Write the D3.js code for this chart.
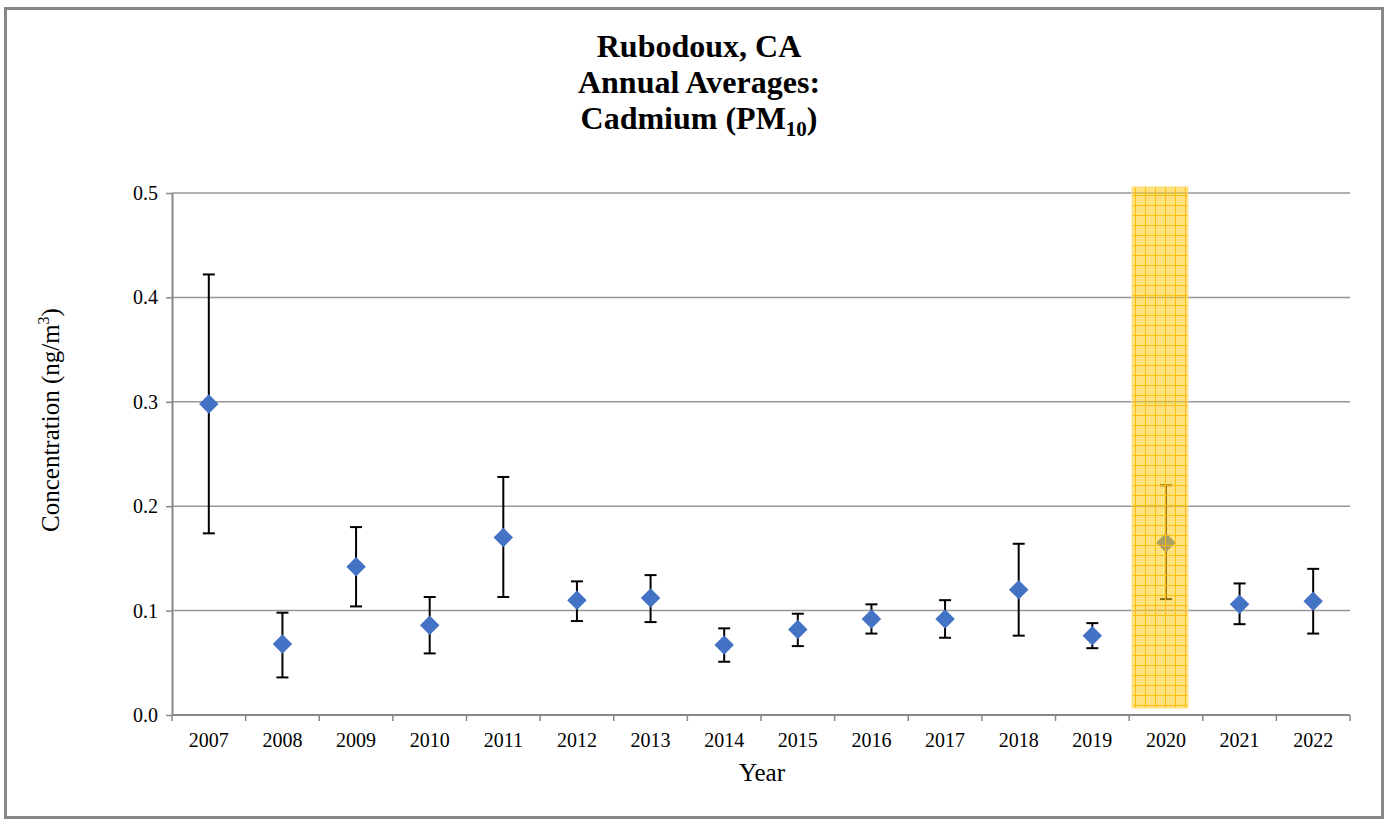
<!DOCTYPE html>
<html lang="en">
<head>
<meta charset="UTF-8">
<title>Rubodoux, CA Cadmium</title>
<script src="https://d3js.org/d3.v7.min.js"></script>
<style>
	body{margin:0;background:#fff}
	text{font-family:"Liberation Serif","Times New Roman",serif;fill:#000}
</style>
</head>
<body>
<svg id="chart" width="1386" height="821"></svg>
<script>
// data
var years = ["2007","2008","2009","2010","2011","2012","2013","2014","2015","2016","2017","2018","2019","2020","2021","2022"]
var means = [0.298,0.068,0.142,0.086,0.170,0.110,0.112,0.067,0.082,0.092,0.092,0.120,0.076,0.165,0.106,0.109]
var upper = [0.422,0.098,0.180,0.113,0.228,0.128,0.134,0.083,0.097,0.106,0.110,0.164,0.088,0.220,0.126,0.140]
var lower = [0.174,0.036,0.104,0.059,0.113,0.090,0.089,0.051,0.066,0.078,0.074,0.076,0.064,0.111,0.087,0.078]
var yTicks = [0,0.1,0.2,0.3,0.4,0.5]
var highlightYear = "2020"

var svg = d3.select("#chart")
var margin = {top:193,left:172,right:36,bottom:106}
var W = 1386, H = 821
var w = W - margin.left - margin.right
var h = H - margin.top - margin.bottom

// outer frame
svg.append("rect").attr("x",5.5).attr("y",8.5).attr("width",1377).attr("height",809)
	.attr("fill","#fff").attr("stroke","#878787").attr("stroke-width",3)

// grid pattern for the highlight
var defs = svg.append("defs")
var pat = defs.append("pattern").attr("id","grid").attr("patternUnits","userSpaceOnUse")
	.attr("width",10).attr("height",10).attr("x",3).attr("y",2)
pat.append("rect").attr("width",10).attr("height",10).attr("fill","rgba(255,200,20,0.55)")
pat.append("path").attr("d","M0,0.5H10M0.5,0V10").attr("stroke","rgba(255,185,0,0.9)").attr("stroke-width",1)

var x = d3.scaleBand().domain(years).range([0,w])
var y = d3.scaleLinear().domain([0,0.5]).range([h,0])

var g = svg.append("g").attr("transform","translate("+margin.left+","+margin.top+")")

// gridlines
g.selectAll(".grid").data(yTicks.slice(1)).enter().append("line")
	.attr("x1",0).attr("x2",w).attr("y1",d=>y(d)).attr("y2",d=>y(d))
	.attr("stroke","#989898").attr("stroke-width",1.5)

// y axis
var yAxis = g.append("g").call(d3.axisLeft(y).tickValues(yTicks).tickFormat(d3.format(".1f")).tickSize(6).tickSizeOuter(0))
yAxis.select(".domain").attr("stroke","#888").attr("stroke-width",2)
yAxis.selectAll(".tick line").attr("stroke","#888").attr("stroke-width",1.5)
yAxis.selectAll(".tick text").attr("font-size",20).attr("x",-14)

// x axis with ticks at category boundaries
var xg = g.append("g").attr("transform","translate(0,"+h+")")
xg.append("line").attr("x1",0).attr("x2",w).attr("stroke","#888").attr("stroke-width",2)
var bounds = years.map(d=>x(d)).concat([w])
xg.selectAll(".xt").data(bounds).enter().append("line")
	.attr("x1",d=>d).attr("x2",d=>d).attr("y1",0).attr("y2",6)
	.attr("stroke","#888").attr("stroke-width",1.5)
xg.selectAll(".xl").data(years).enter().append("text")
	.attr("x",d=>x(d)+x.bandwidth()/2).attr("y",32)
	.attr("text-anchor","middle").attr("font-size",20).text(d=>d)

// error bars
var cx = d=>x(d)+x.bandwidth()/2
var bars = g.selectAll(".err").data(years).enter().append("g")
bars.append("line").attr("x1",cx).attr("x2",cx)
	.attr("y1",(d,i)=>y(upper[i])).attr("y2",(d,i)=>y(lower[i]))
	.attr("stroke","#000").attr("stroke-width",2)
bars.append("line").attr("x1",d=>cx(d)-6).attr("x2",d=>cx(d)+6)
	.attr("y1",(d,i)=>y(upper[i])).attr("y2",(d,i)=>y(upper[i]))
	.attr("stroke","#000").attr("stroke-width",2)
bars.append("line").attr("x1",d=>cx(d)-6).attr("x2",d=>cx(d)+6)
	.attr("y1",(d,i)=>y(lower[i])).attr("y2",(d,i)=>y(lower[i]))
	.attr("stroke","#000").attr("stroke-width",2)

// diamonds
g.selectAll(".pt").data(years).enter().append("path")
	.attr("d",d3.symbol().type(d3.symbolSquare).size(190))
	.attr("transform",(d,i)=>"translate("+cx(d)+","+y(means[i])+") rotate(45)")
	.attr("fill","#4472C4")

// highlight band over 2020 (sits a little left of the point, as in the original)
var hx = cx(highlightYear)
g.append("rect").attr("x",hx-34).attr("width",56)
	.attr("y",y(0.506)).attr("height",y(0.0066)-y(0.506))
	.attr("fill","url(#grid)").attr("stroke","rgba(255,225,150,0.6)").attr("stroke-width",1.5)

// title
var title = svg.append("text").attr("text-anchor","middle").attr("font-weight","bold").attr("font-size",32)
title.append("tspan").attr("x",699).attr("y",57).text("Rubodoux, CA")
title.append("tspan").attr("x",699).attr("y",93).text("Annual Averages:")
var t3 = title.append("tspan").attr("x",699).attr("y",129).text("Cadmium (PM")
t3.append("tspan").attr("font-size",21).attr("dy",7).text("10")
t3.append("tspan").attr("dy",-7).text(")")

// axis titles
svg.append("text").attr("x",762).attr("y",781).attr("text-anchor","middle").attr("font-size",25).text("Year")
var yl = svg.append("text").attr("transform","translate(59,420) rotate(-90)").attr("text-anchor","middle").attr("font-size",25)
yl.append("tspan").text("Concentration (ng/m")
yl.append("tspan").attr("font-size",16).attr("dy",-10).text("3")
yl.append("tspan").attr("dy",10).text(")")
</script>
</body>
</html>
